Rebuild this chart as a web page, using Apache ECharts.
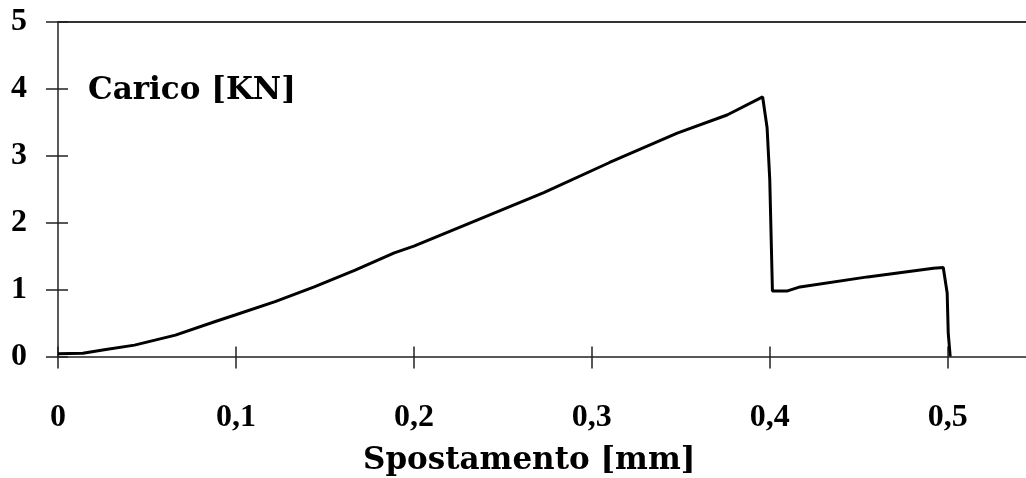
<!DOCTYPE html>
<html>
<head>
<meta charset="utf-8">
<script src="https://cdn.jsdelivr.net/npm/echarts@6/dist/echarts.min.js"></script>
<style>
html,body{margin:0;padding:0;background:#fff;}
#c{width:1026px;height:478px;}
</style>
</head>
<body>
<div id="c"></div>
<script>
// Data
const spostamento = [0, 0.014, 0.026, 0.043, 0.066, 0.088, 0.0995, 0.122, 0.144, 0.167, 0.189, 0.2, 0.2355, 0.273, 0.31, 0.348, 0.376, 0.396, 0.3985, 0.4, 0.4015, 0.41, 0.417, 0.455, 0.492, 0.4975, 0.4997, 0.5003, 0.5014];
const carico = [0.04, 0.05, 0.1, 0.17, 0.32, 0.52, 0.62, 0.82, 1.04, 1.29, 1.55, 1.65, 2.04, 2.45, 2.9, 3.34, 3.61, 3.88, 3.42, 2.64, 0.98, 0.98, 1.04, 1.19, 1.32, 1.33, 0.95, 0.35, 0];
const xTickValues = [0, 0.1, 0.2, 0.3, 0.4, 0.5];
const xTickLabels = ['0', '0,1', '0,2', '0,3', '0,4', '0,5'];
const yTickValues = [0, 1, 2, 3, 4, 5];
const yTickLabels = ['0', '1', '2', '3', '4', '5'];
const xTitle = 'Spostamento [mm]';
const yTitle = 'Carico [KN]';
const xMax = 0.544;

const points = spostamento.map((x, i) => [x, carico[i]]);
const labelFont = {fontFamily: '"Liberation Serif", "Times New Roman", serif', fontWeight: 'bold', fontSize: 32, color: '#000'};
const titleFont = {fontFamily: '"DejaVu Serif", serif', fontWeight: 'bold', fontSize: 31, color: '#000'};
const axisLineStyle = {color: '#222', width: 1.5};

const xLabelFor = v => { const i = xTickValues.findIndex(t => Math.abs(t - v) < 1e-9); return i >= 0 ? xTickLabels[i] : ''; };
const yLabelFor = v => { const i = yTickValues.findIndex(t => Math.abs(t - v) < 1e-9); return i >= 0 ? yTickLabels[i] : ''; };

const chart = echarts.init(document.getElementById('c'), null, {renderer: 'canvas'});
chart.setOption({
  animation: false,
  backgroundColor: '#fff',
  title: [
    {text: yTitle, left: 83, top: 70, textStyle: titleFont},
    {text: xTitle, left: 358, top: 440, textStyle: titleFont}
  ],
  grid: {left: 58, top: 22, right: 0, bottom: 121.5, containLabel: false},
  xAxis: [
    {
      type: 'value', min: 0, max: xMax, interval: 0.1, position: 'bottom',
      axisLine: {show: true, onZero: false, lineStyle: axisLineStyle},
      axisTick: {show: true, inside: false, length: 12, lineStyle: axisLineStyle, customValues: xTickValues},
      axisLabel: {show: true, margin: 45, ...labelFont, customValues: xTickValues, formatter: xLabelFor},
      splitLine: {show: false}
    },
    {
      type: 'value', min: 0, max: xMax, interval: 0.1, position: 'bottom',
      axisLine: {show: false, onZero: false},
      axisTick: {show: true, inside: true, length: 10, lineStyle: axisLineStyle, customValues: xTickValues},
      axisLabel: {show: false}, splitLine: {show: false}
    },
    {
      type: 'value', min: 0, max: xMax, position: 'top',
      axisLine: {show: true, onZero: false, lineStyle: {color: '#333', width: 2}},
      axisTick: {show: false}, axisLabel: {show: false}, splitLine: {show: false}
    }
  ],
  yAxis: [
    {
      type: 'value', min: 0, max: 5, interval: 1, position: 'left',
      axisLine: {show: true, onZero: false, lineStyle: axisLineStyle},
      axisTick: {show: true, inside: false, length: 12, lineStyle: axisLineStyle},
      axisLabel: {show: true, margin: 31, ...labelFont, formatter: yLabelFor},
      splitLine: {show: false}
    },
    {
      type: 'value', min: 0, max: 5, interval: 1, position: 'left',
      axisLine: {show: false, onZero: false},
      axisTick: {show: true, inside: true, length: 10, lineStyle: axisLineStyle},
      axisLabel: {show: false}, splitLine: {show: false}
    }
  ],
  series: [{
    type: 'line',
    data: points,
    xAxisIndex: 0, yAxisIndex: 0,
    showSymbol: false,
    symbol: 'none',
    lineStyle: {color: '#000', width: 3},
    clip: true
  }]
});
</script>
</body>
</html>
